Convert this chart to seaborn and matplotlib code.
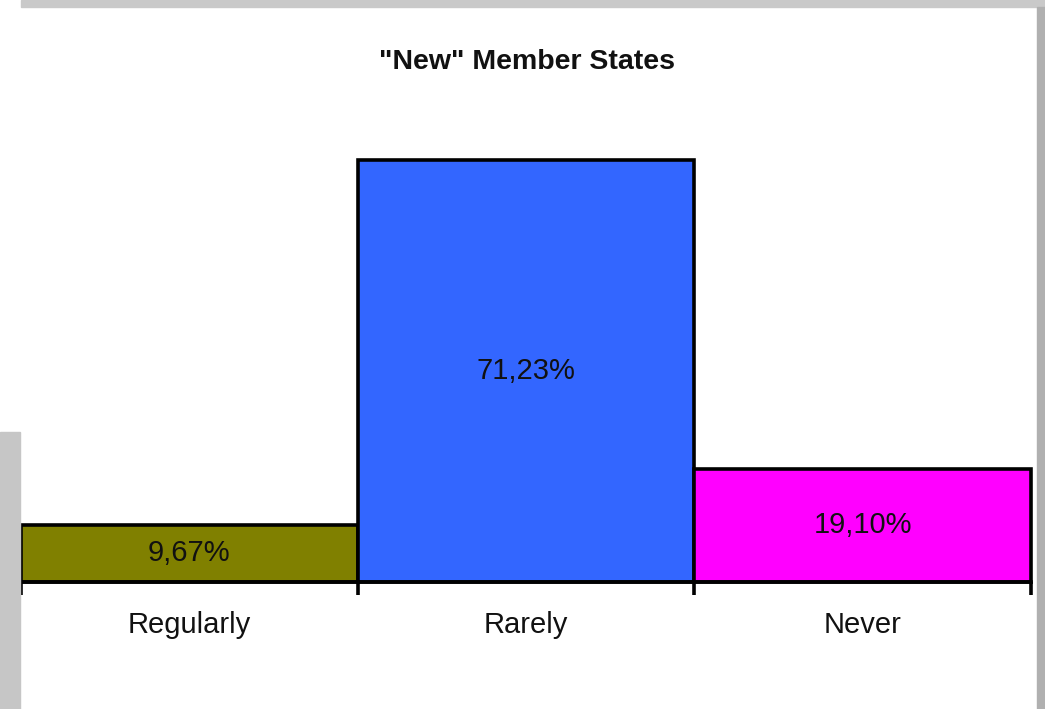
import matplotlib
matplotlib.use('Agg')
import matplotlib.pyplot as plt
from matplotlib.patches import Rectangle
import seaborn as sns
import pandas as pd

# data
categories = ['Regularly', 'Rarely', 'Never']
shares = [9.67, 71.23, 19.10]
bar_colors = ['#808000', '#3366FF', '#FF00FF']
title = '"New" Member States'

sns.set_style('white')
plt.rcParams['font.family'] = ['Liberation Sans', 'DejaVu Sans']

df = pd.DataFrame({'category': categories, 'share': shares})

fig = plt.figure(figsize=(10.45, 7.09), dpi=100)
W, H = 1045, 709
ax = fig.add_axes([21 / W, (H - 582) / H, (1031 - 21) / W, (582 - 108) / H])

sns.barplot(data=df, x='category', y='share', hue='category',
            palette=bar_colors, width=1, saturation=1, legend=False,
            edgecolor='black', linewidth=2.6, ax=ax)
for p in ax.patches:
    p.set_clip_on(False)

# one container per hue level with seaborn 0.13
for cont in ax.containers:
    vals = [b.get_height() for b in cont if b is not None]
    ax.bar_label(cont, labels=[f'{v:.2f}'.replace('.', ',') + '%' for v in vals],
                 label_type='center', fontsize=21, color='#111111')

ax.set_xlim(-0.5, 2.5)
ax.set_ylim(0, 80)
ax.set_yticks([])
ax.set_xlabel('')
ax.set_ylabel('')
for s in ['left', 'right', 'top']:
    ax.spines[s].set_visible(False)
ax.spines['bottom'].set_linewidth(2.6)
ax.spines['bottom'].set_color('black')

# tick marks at bar boundaries, labels at bar centres
ax.set_xticks([-0.5, 0.5, 1.5, 2.5])
ax.set_xticklabels([])
ax.set_xticks([0, 1, 2], minor=True)
ax.set_xticklabels(categories, minor=True, fontsize=21, color='#111111')
ax.tick_params(axis='x', which='major', length=9, width=2.6, direction='out',
               bottom=True, color='black')
ax.tick_params(axis='x', which='minor', length=0, pad=21)

fig.text(527 / W, 1 - 62 / H, title, ha='center', va='center',
         fontsize=20.5, fontweight='bold', color='#111111')

# grey frame strips around the slide
fig.patches.append(Rectangle((21 / W, 1 - 7 / H), 1, 7 / H,
                             transform=fig.transFigure, color='#c9c9c9', zorder=0))
fig.patches.append(Rectangle((0, 0), 20 / W, (H - 432) / H,
                             transform=fig.transFigure, color='#c6c6c6', zorder=0))
fig.patches.append(Rectangle((1037 / W, 0), 8 / W, (H - 7) / H,
                             transform=fig.transFigure, color='#b0b0b0', zorder=0))

plt.savefig('out.png', dpi=100)
